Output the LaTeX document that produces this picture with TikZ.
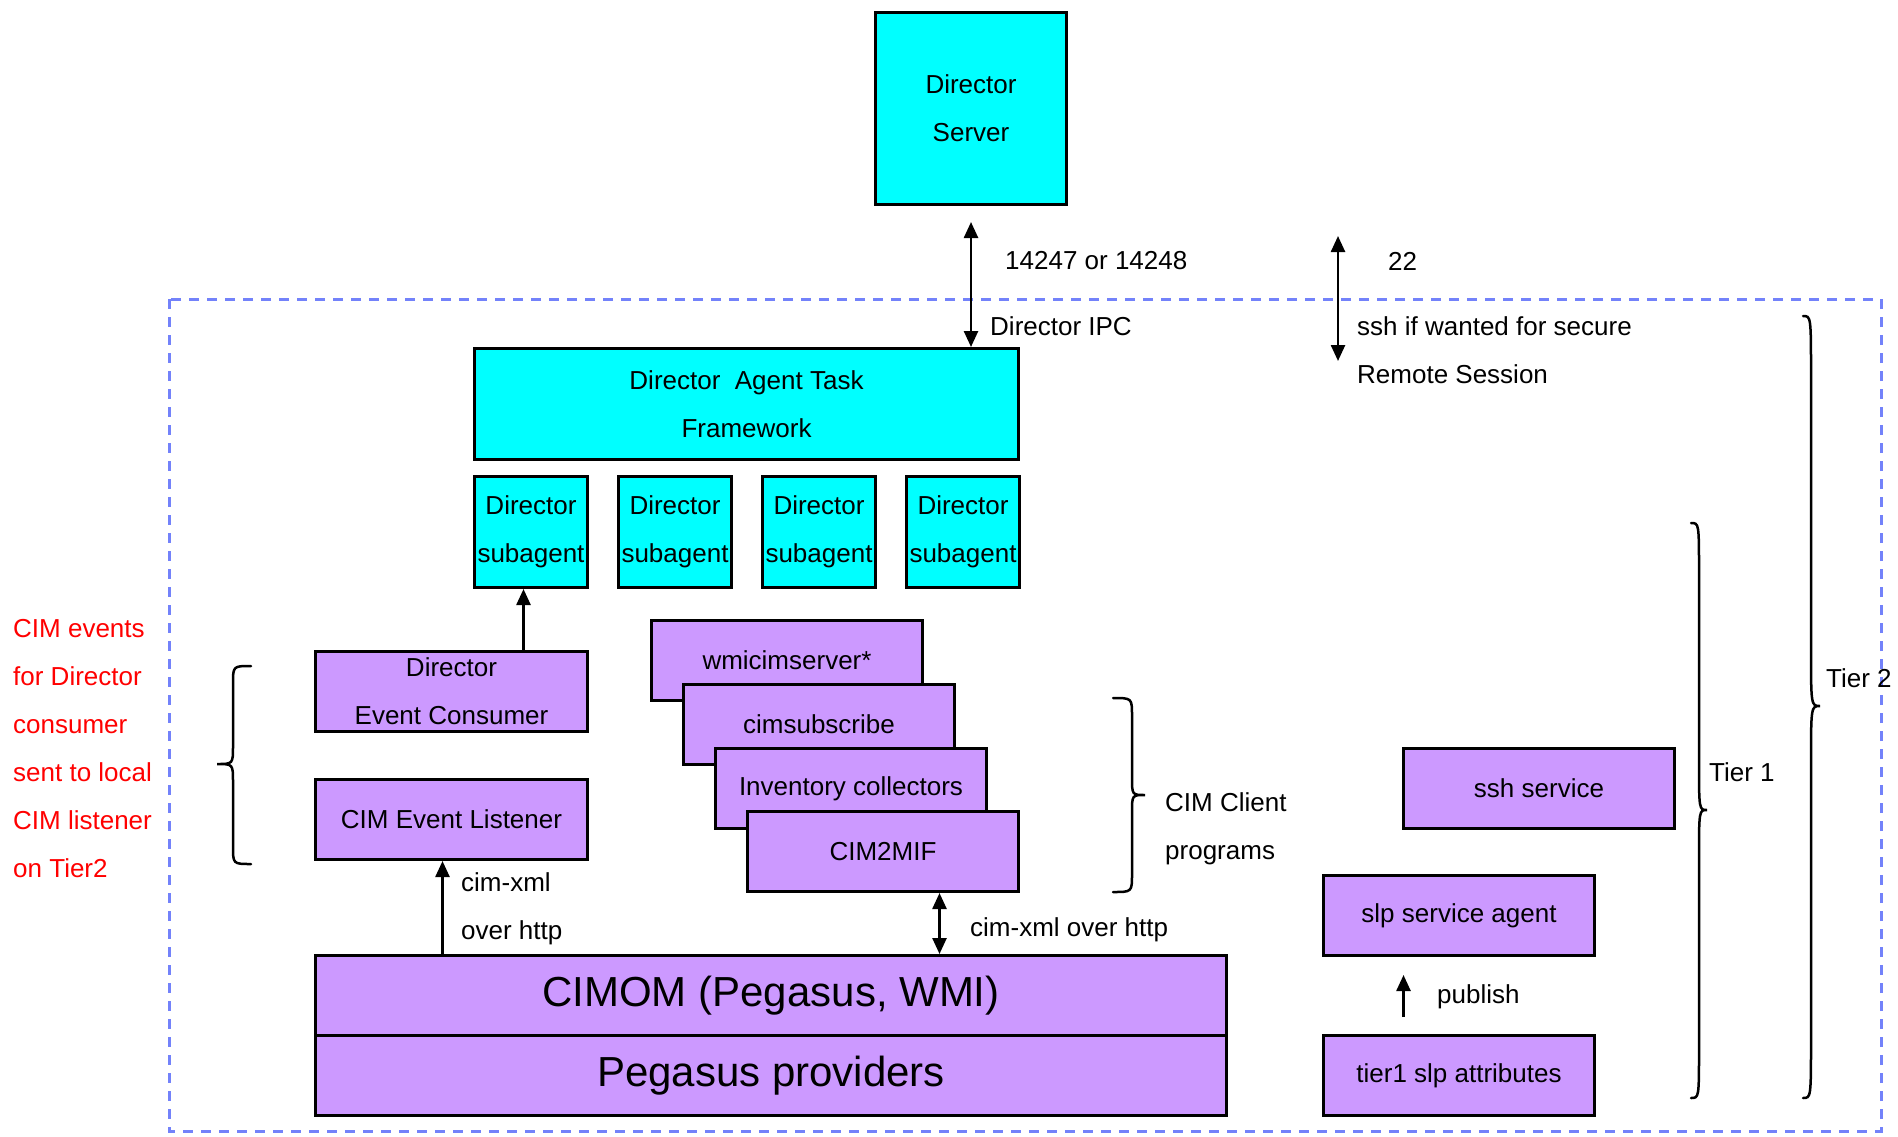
\documentclass[tikz,border=0pt]{standalone}
\usepackage{fontspec}
\setmainfont{Liberation Sans}
\usetikzlibrary{arrows.meta}
\definecolor{cyanbox}{RGB}{0,255,255}
\definecolor{purplebox}{RGB}{204,153,255}
\definecolor{dashblue}{RGB}{115,130,250}
\newcommand\mybrace[7]{\draw[bracestyle] (#1,#4) .. controls (#2,#4) .. (#2,#4+#7) -- (#2,#5-#7) .. controls (#2,#5) .. (#3,#5) .. controls (#2,#5) .. (#2,#5+#7) -- (#2,#6-#7) .. controls (#2,#6) .. (#1,#6);}
\begin{document}
\begin{tikzpicture}[x=1pt,y=-1pt,
 every node/.style={font=\fontsize{26}{48}\selectfont, inner sep=0pt},
 cbox/.style={draw, line width=3pt, fill=cyanbox, anchor=north west, align=center},
 pbox/.style={draw, line width=3pt, fill=purplebox, anchor=north west, align=center},
 lbl/.style={anchor=west, align=left},
 arr/.style={line width=2.5pt, -{Triangle[length=16pt,width=14pt]}},
 dbl/.style={line width=2.5pt, {Triangle[length=16pt,width=14pt]}-{Triangle[length=16pt,width=14pt]}},
 bracestyle/.style={line width=2.5pt, line cap=round}]
\useasboundingbox (0,0) rectangle (1898,1136);
% dashed tier-2 frame
\draw[dashblue, line width=3pt, dash pattern=on 10pt off 8pt] (169,299) rectangle (1881,1131);

% boxes
\node[cbox, minimum width=191pt, minimum height=192pt] (ds) at (874,11) {Director\\Server};
\node[cbox, minimum width=544pt, minimum height=111pt] (fw) at (473,347) {Director\ \ Agent Task\\Framework};
\node[cbox, minimum width=113pt, minimum height=111pt] (sa1) at (473,475) {Director\\subagent};
\node[cbox, minimum width=113pt, minimum height=111pt] (sa2) at (617,475) {Director\\subagent};
\node[cbox, minimum width=113pt, minimum height=111pt] (sa3) at (761,475) {Director\\subagent};
\node[cbox, minimum width=113pt, minimum height=111pt] (sa4) at (905,475) {Director\\subagent};

\node[pbox, minimum width=272pt, minimum height=80pt] (dec) at (314,650) {Director\\Event Consumer};
\node[pbox, minimum width=272pt, minimum height=80pt] (cel) at (314,778) {CIM Event Listener};

\node[pbox, minimum width=271pt, minimum height=80pt] (wmi) at (650,619) {wmicimserver*};
\node[pbox, minimum width=271pt, minimum height=80pt] (csub) at (682,683) {cimsubscribe};
\node[pbox, minimum width=271pt, minimum height=80pt] (inv) at (714,747) {Inventory collectors};
\node[pbox, minimum width=271pt, minimum height=80pt] (c2m) at (746,810) {CIM2MIF};

\node[pbox, minimum width=911pt, minimum height=80pt, font=\fontsize{42}{50}\selectfont] (cimom) at (314,954) {CIMOM (Pegasus, WMI)};
\node[pbox, minimum width=911pt, minimum height=80pt, font=\fontsize{42}{50}\selectfont] (peg) at (314,1034) {Pegasus providers};

\node[pbox, minimum width=271pt, minimum height=80pt] (ssh) at (1402,747) {ssh service};
\node[pbox, minimum width=271pt, minimum height=80pt] (slp) at (1322,874) {slp service agent};
\node[pbox, minimum width=271pt, minimum height=80pt] (t1) at (1322,1034) {tier1 slp attributes};

% connectors
\draw[dbl] ([yshift=-16pt]ds.south) -- (ds.south |- fw.north);
\coordinate (s1) at (1338,236);
\coordinate (s2) at (1338,361);
\draw[dbl] (s1) -- (s2);
\draw[arr] ([xshift=-7.5pt]sa1.south |- dec.north) -- ([xshift=-7.5pt]sa1.south);
\draw[arr] ([xshift=-9pt]cel.south |- cimom.north) -- ([xshift=-9pt]cel.south);
\draw[dbl] ([xshift=56.5pt]c2m.south) -- ([xshift=56.5pt]c2m.south |- cimom.north);
\draw[arr] ([xshift=-55.5pt,yshift=17pt]t1.north) -- ([xshift=-55.5pt,yshift=-18pt]slp.south);

% labels
\node[lbl] (l1) at (1005,261) {14247 or 14248};
\node[lbl] (l2) at (1388,261) {22};
\node[lbl] (l3) at (990,326) {Director IPC};
\node[lbl] (l4) at (1357,350) {ssh if wanted for secure\\Remote Session};
\node[lbl] (l5) at (461,909) {cim-xml\\over http};
\node[lbl] (l6) at (970,930) {cim-xml over http};
\node[lbl] (l7) at (1165,829) {CIM Client\\programs};
\node[lbl] (l8) at (1437,997) {publish};
\node[lbl] (l9) at (1709,772) {Tier 1};
\node[lbl] (l10) at (1826,678) {Tier 2};
\node[lbl, text=red] (red) at (13,749) {CIM events\\for Director\\consumer\\sent to local\\CIM listener\\on Tier2};

% braces
\mybrace{251}{233}{217}{666}{764}{864}{18}
\mybrace{1113}{1132}{1145}{698}{795}{892}{18}
\mybrace{1691}{1699}{1707}{523}{810}{1098}{50}
\mybrace{1803}{1811}{1820}{316}{706}{1098}{60}
\end{tikzpicture}
\end{document}
